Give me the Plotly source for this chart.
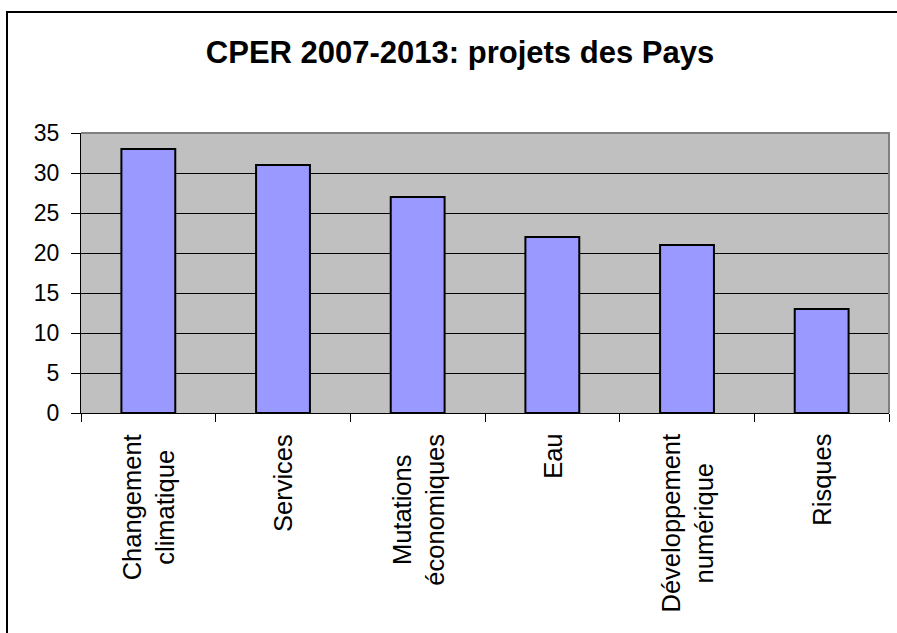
import plotly.graph_objects as go

categories = ["Changement<br>climatique", "Services", "Mutations<br>économiques", "Eau",
              "Développement<br>numérique", "Risques"]
values = [33, 31, 27, 22, 21, 13]
title_text = "CPER 2007-2013: projets des Pays"

W, H = 897, 633
L, R, T, B = 81, 8, 133, 220
pw, ph = W - L - R, H - T - B

FONT = "Liberation Sans, Arial, sans-serif"

fig = go.Figure(go.Bar(
    x=categories, y=values,
    marker=dict(color="#9999FF", line=dict(color="black", width=2)),
))

annotations = [
    dict(x=c, y=0, xref="x", yref="paper", text=c, textangle=-90,
         showarrow=False, yanchor="top", xanchor="center", align="center",
         yshift=-19, font=dict(family=FONT, size=25.5, color="black"))
    for c in categories
]

def px_x(p):
    return (p - L) / pw

def px_y(p):
    return (H - B - p) / ph

shapes = [
    # plot area border (top and right)
    dict(type="path", xref="paper", yref="paper", path="M 0,1 L 1,1 L 1,0",
         line=dict(color="#808080", width=2), layer="above"),
    # outer chart border
    dict(type="rect", xref="paper", yref="paper",
         x0=px_x(7), x1=px_x(910), y0=px_y(650), y1=px_y(12),
         line=dict(color="black", width=2), fillcolor="rgba(0,0,0,0)", layer="above"),
]

fig.update_layout(
    width=W, height=H,
    margin=dict(l=L, r=R, t=T, b=B, pad=0),
    paper_bgcolor="white", plot_bgcolor="#C0C0C0",
    bargap=0.6, showlegend=False,
    font=dict(family=FONT, color="black"),
    title=dict(text="<b>" + title_text + "</b>", x=460 / W, xref="container", xanchor="center",
               y=1 - 52 / H, yref="container", yanchor="middle",
               font=dict(family=FONT, size=31, color="black")),
    xaxis=dict(showticklabels=False, ticks="outside", tickson="boundaries", ticklen=8,
               tickcolor="black", tickwidth=1, showline=True, linecolor="black", linewidth=1,
               showgrid=False, fixedrange=True),
    yaxis=dict(range=[0, 35], dtick=5, tick0=0, ticks="outside", ticklen=9, tickcolor="black",
               tickwidth=1, showline=True, linecolor="black", linewidth=1,
               showgrid=True, gridcolor="black", gridwidth=1, zeroline=False,
               tickfont=dict(family=FONT, size=23, color="black"), ticklabelstandoff=7,
               fixedrange=True),
    annotations=annotations,
    shapes=shapes,
)

fig.write_html("out.html",
               config={"displayModeBar": False},
               post_script="document.body.style.margin='0';document.body.style.overflow='hidden';")
